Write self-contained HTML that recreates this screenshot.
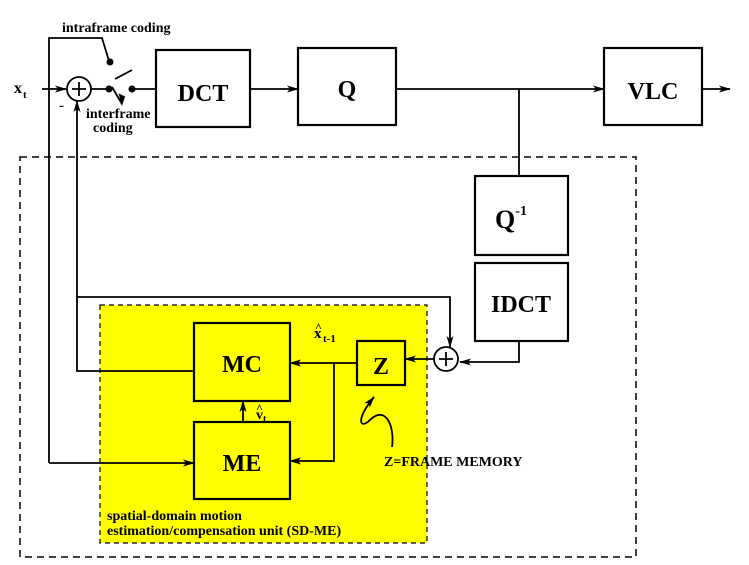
<!DOCTYPE html>
<html><head><style>body{margin:0;background:#fff}svg{display:block}text{font-family:"Liberation Serif",serif;font-weight:bold;fill:#000}</style></head>
<body>
<svg width="749" height="565" viewBox="0 0 749 565">
<defs><marker id="a" markerWidth="12" markerHeight="8" refX="11" refY="4" orient="auto" markerUnits="userSpaceOnUse"><path d="M0,0.5 L12,4 L0,7.5 L3,4z" fill="#000"/></marker></defs>
<rect x="20" y="157" width="616" height="400" fill="none" stroke="#000" stroke-width="1.5" stroke-dasharray="7,5"/>
<rect x="100" y="305" width="327" height="238" fill="#ffff00" stroke="#000" stroke-width="1.2" stroke-dasharray="5,4"/>
<g fill="none" stroke="#000" stroke-width="2.2">
<rect x="156" y="50" width="94" height="77"/>
<rect x="298" y="48" width="98" height="77"/>
<rect x="604" y="48" width="98" height="77"/>
<rect x="475" y="176" width="93" height="79"/>
<rect x="475" y="263" width="93" height="78"/>
<rect x="194" y="323" width="96" height="78"/>
<rect x="194" y="422" width="96" height="77"/>
<rect x="357" y="341" width="48" height="44"/>
</g>
<g fill="none" stroke="#000" stroke-width="1.8">
<circle cx="79" cy="89" r="12"/><path d="M72,89h14M79,82v14"/>
<circle cx="446" cy="359" r="12"/><path d="M439,359h14M446,352v14"/>
<path d="M42,89H66" marker-end="url(#a)"/>
<path d="M91,89H108"/>
<path d="M132,89H156"/>
<path d="M250,89H298" marker-end="url(#a)"/>
<path d="M396,89H604" marker-end="url(#a)"/>
<path d="M702,89H730" marker-end="url(#a)"/>
<path d="M519,89V176"/>
<path d="M519,341V362H460" marker-end="url(#a)"/>
<path d="M434,359H405" marker-end="url(#a)"/>
<path d="M49,463V38H102L109,61"/>
<path d="M49,463H194" marker-end="url(#a)"/>
<path d="M77,297H450V347" marker-end="url(#a)"/>
<path d="M194,371H77V101" marker-end="url(#a)"/>
<path d="M357,363H290" marker-end="url(#a)"/>
<path d="M334,363V461H290" marker-end="url(#a)"/>
<path d="M243,422V401" marker-end="url(#a)"/>
<path d="M112,87 L122,104 M115,79 L132,70"/>
<path d="M122,103l-2,-8 4,2z" fill="#000"/>
<path d="M392,447 C395,425 385,405 370,420 C360,430 355,420 374,397" marker-end="url(#a)"/>
</g>
<circle cx="110" cy="62" r="3.5"/><circle cx="109" cy="89" r="3.5"/><circle cx="132" cy="89" r="3.5"/>
<text x="62" y="32" font-size="14">intraframe coding</text>
<text x="86" y="118" font-size="14">interframe</text>
<text x="93" y="132" font-size="14">coding</text>
<text x="14" y="93" font-size="16" font-weight="normal">x</text><text x="23" y="98" font-size="11">t</text>
<text x="59" y="110" font-size="15">-</text>
<text x="203" y="101" font-size="24" text-anchor="middle">DCT</text>
<text x="347" y="97" font-size="24" text-anchor="middle">Q</text>
<text x="653" y="99" font-size="24" text-anchor="middle">VLC</text>
<text x="511" y="228" font-size="26" text-anchor="middle">Q<tspan font-size="14" dy="-13">-1</tspan></text>
<text x="521" y="312" font-size="24" text-anchor="middle">IDCT</text>
<text x="242" y="372" font-size="24" text-anchor="middle">MC</text>
<text x="242" y="471" font-size="24" text-anchor="middle">ME</text>
<text x="381" y="374" font-size="24" text-anchor="middle">Z</text>
<text x="314" y="338" font-size="15">x</text><text x="315" y="331" font-size="12">^</text><text x="323" y="342" font-size="11">t-1</text>
<text x="256" y="419" font-size="14">v</text><text x="256" y="412" font-size="12">^</text><text x="263" y="422" font-size="10">t</text>
<text x="384" y="466" font-size="14">Z=FRAME MEMORY</text>
<text x="107" y="520" font-size="14">spatial-domain motion</text>
<text x="107" y="535" font-size="14">estimation/compensation unit (SD-ME)</text>
</svg>
</body></html>
